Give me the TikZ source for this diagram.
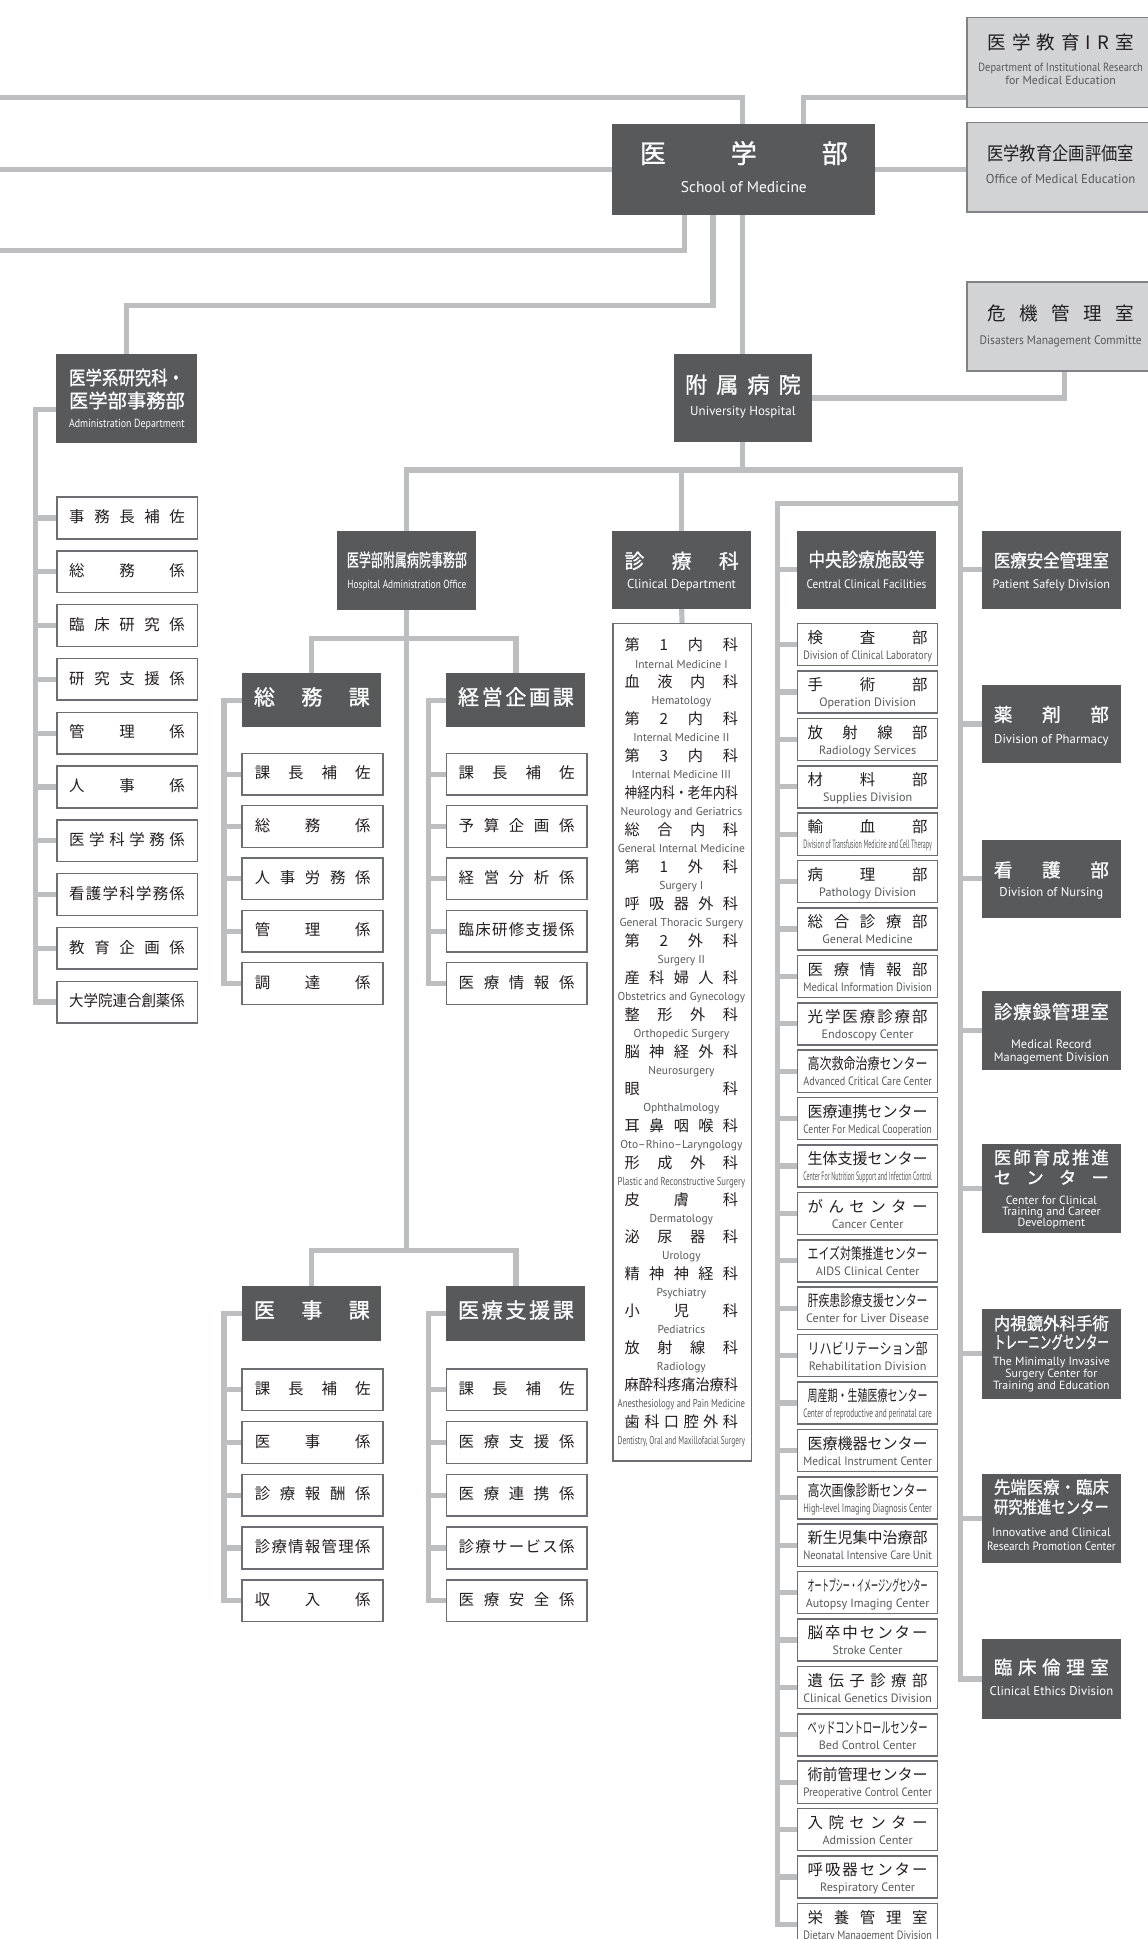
\documentclass[tikz,border=0pt]{standalone}
\usepackage{graphicx}
\usepackage{fontspec}
\setmainfont{PT Sans}
\newfontfamily\jp{Noto Sans CJK JP}
\newfontfamily\jpb[FakeBold=1]{Noto Sans CJK JP}
\newfontfamily\en{PT Sans}
\usetikzlibrary{calc}
\definecolor{dk}{HTML}{58595B}
\definecolor{ln}{HTML}{BCBEC0}
\definecolor{bd}{HTML}{6D6E71}
\definecolor{lg}{HTML}{D1D3D4}
\definecolor{gbd}{HTML}{808285}
\definecolor{tx}{HTML}{231F20}
\definecolor{etx}{HTML}{58595B}
\pgfdeclarelayer{bg}
\pgfsetlayers{bg,main}
\makeatletter
\newsavebox\fitbox
\newcommand\spreadtok[1]{\let\sp@first\relax\@tfor\sp@c:=#1\do{\ifx\sp@first\relax\let\sp@first\@empty\else\hfil\fi\sp@c}}
\newcommand\jfit[2]{\sbox\fitbox{#2}\ifdim\wd\fitbox>#1\relax\resizebox{#1}{\height}{\usebox\fitbox}\else\makebox[#1][s]{\spreadtok{#2}}\fi}
\newcommand\efit[2]{\sbox\fitbox{#2}\ifdim\wd\fitbox>#1\relax\resizebox{#1}{\height}{\usebox\fitbox}\else\usebox\fitbox\fi}
\makeatother
\tikzset{
  conn/.style={draw=ln, line width=4.2pt, line cap=rect, line join=miter},
  dbox/.style={fill=dk, inner sep=0pt, anchor=north west},
  wbox/.style={fill=white, draw=bd, line width=1.2pt, inner sep=0pt, anchor=north west},
  gbox/.style={fill=lg, draw=gbd, line width=1.4pt, inner sep=0pt, anchor=north west},
  jt/.style={inner sep=0pt, text height=0.88em, text depth=0.12em},
  et/.style={inner sep=0pt, text height=0.72em, text depth=0.18em},
  cj/.style={jt, font=\jp\fontsize{12.5}{12.5}\selectfont, text=tx},
  ce/.style={et, font=\en\fontsize{9.8}{10}\selectfont, text=etx},
  dj/.style={jt, font=\jp\fontsize{12.3}{12.3}\selectfont, text=tx},
  de/.style={et, font=\en\fontsize{9.3}{9.5}\selectfont, text=etx},
  wj/.style={jt, text=white},
  we/.style={et, text=white},
}
\newcommand\sitem[5]{%
  \node[wbox, minimum width=#4pt, minimum height=33.7pt] (#1) at (#2,#3) {};
  \node[jt, font=\jp\fontsize{12.5}{12.5}\selectfont, text=tx] (#1t) at (#1.center) {\jfit{93.6pt}{#5}};}
\newcommand\citem[3]{%
  \node[wbox, minimum width=113pt, minimum height=34pt] (c#1) at (644.5,{503.7+38.33*(#1-1)}) {};
  \node[cj] (c#1j) at ($(c#1.north)+(0,12.7)$) {\jfit{97pt}{#2}};
  \node[ce] (c#1e) at ($(c#1.north)+(0,26.8)$) {\efit{104pt}{#3}};}
\newcommand\dent[3]{%
  \node[dj] (d#1j) at (551,{522.6+29.9*(#1-1)}) {\jfit{91.7pt}{#2}};
  \node[de] (d#1e) at (551,{537.5+29.9*(#1-1)}) {\efit{103pt}{#3}};}
\begin{document}
\begin{tikzpicture}[x=1pt,y=-1pt]
\useasboundingbox (0,0) rectangle (928,1568);
% ---------- top right light boxes
\node[gbox, minimum width=152pt, minimum height=72.8pt] (ir) at (781,13.5) {};
\node[jt, font=\jp\fontsize{15}{15}\selectfont, text=tx] (irj) at ($(ir.north)+(0,22.9)$) {\jfit{118.4pt}{医学教育IR室}};
\node[et, font=\en\fontsize{9.6}{10}\selectfont, text=etx] (ire1) at ($(ir.north)+(0,41.8)$) {\efit{133pt}{Department of Institutional Research}};
\node[et, font=\en\fontsize{9.6}{10}\selectfont, text=etx] (ire2) at ($(ir.north)+(0,52)$) {\efit{133pt}{for Medical Education}};
\node[gbox, minimum width=152pt, minimum height=72.1pt] (ofc) at (781,98.4) {};
\node[jt, font=\jp\fontsize{15}{15}\selectfont, text=tx] (ofcj) at ($(ofc.north)+(0,27.6)$) {\jfit{118.6pt}{医学教育企画評価室}};
\node[et, font=\en\fontsize{10.5}{11}\selectfont, text=etx] (ofce) at ($(ofc.north)+(0,47.6)$) {\efit{121pt}{Office of Medical Education}};
\node[gbox, minimum width=152pt, minimum height=72pt] (dis) at (781,227.3) {};
\node[jt, font=\jp\fontsize{15}{15}\selectfont, text=tx] (disj) at ($(dis.north)+(0,28.3)$) {\jfit{118.4pt}{危機管理室}};
\node[et, font=\en\fontsize{10}{11}\selectfont, text=etx] (dise) at ($(dis.north)+(0,48.3)$) {\efit{131pt}{Disasters Management Committe}};
% ---------- School of Medicine
\node[dbox, minimum width=212.6pt, minimum height=73.6pt] (med) at (495,99.8) {};
\node[wj, font=\jpb\fontsize{21}{21}\selectfont] (medj) at ($(med.north)+(0,28.2)$) {\jfit{168.2pt}{医学部}};
\node[we, font=\en\fontsize{12.5}{13}\selectfont] (mede) at ($(med.north)+(0,53.2)$) {\efit{104pt}{School of Medicine}};
% ---------- University Hospital
\node[dbox, minimum width=111.7pt, minimum height=71.7pt] (hosp) at (544.7,285.8) {};
\node[wj, font=\jpb\fontsize{18}{18}\selectfont] (hospj) at ($(hosp.north)+(0,28.2)$) {\jfit{93.6pt}{附属病院}};
\node[we, font=\en\fontsize{10.5}{11}\selectfont] (hospe) at ($(hosp.north)+(0,47.8)$) {\efit{90pt}{University Hospital}};
% ---------- Administration Department
\node[dbox, minimum width=113.7pt, minimum height=72.2pt] (adm) at (45.3,285.8) {};
\node[wj, anchor=west, font=\jpb\fontsize{15.5}{15.5}\selectfont] (admj1) at (55.7,307.4) {\jfit{93pt}{医学系研究科・}};
\node[wj, anchor=west, font=\jpb\fontsize{15.5}{15.5}\selectfont] (admj2) at (55.7,326) {\jfit{93.5pt}{医学部事務部}};
\node[we, anchor=west, font=\en\fontsize{9.5}{10}\selectfont] (adme) at (55.7,343) {\efit{93.5pt}{Administration Department}};
\sitem{a1}{45.3}{401.4}{113.7}{事務長補佐}
\sitem{a2}{45.3}{444.9}{113.7}{総務係}
\sitem{a3}{45.3}{488.4}{113.7}{臨床研究係}
\sitem{a4}{45.3}{531.9}{113.7}{研究支援係}
\sitem{a5}{45.3}{575.4}{113.7}{管理係}
\sitem{a6}{45.3}{618.9}{113.7}{人事係}
\sitem{a7}{45.3}{662.4}{113.7}{医学科学務係}
\sitem{a8}{45.3}{705.9}{113.7}{看護学科学務係}
\sitem{a9}{45.3}{749.4}{113.7}{教育企画係}
\sitem{a10}{45.3}{792.9}{113.7}{大学院連合創薬係}
% ---------- Hospital Administration Office
\node[dbox, minimum width=112.4pt, minimum height=64.2pt] (hao) at (272.6,428.8) {};
\node[wj, font=\jpb\fontsize{14.5}{14.5}\selectfont] (haoj) at ($(hao.north)+(0,25.6)$) {\jfit{97pt}{医学部附属病院事務部}};
\node[we, font=\en\fontsize{9.5}{10}\selectfont] (haoe) at ($(hao.north)+(0,44.5)$) {\efit{96pt}{Hospital Administration Office}};
% section headers
\node[dbox, minimum width=112.4pt, minimum height=44pt] (gA) at (195.8,544) {};
\node[wj, font=\jpb\fontsize{17}{17}\selectfont] (gAj) at (gA.center) {\jfit{93.7pt}{総務課}};
\node[dbox, minimum width=112.4pt, minimum height=44pt] (gB) at (360.8,544) {};
\node[wj, font=\jpb\fontsize{17}{17}\selectfont] (gBj) at (gB.center) {\jfit{93.7pt}{経営企画課}};
\node[dbox, minimum width=112.4pt, minimum height=44.4pt] (gC) at (195.8,1039.6) {};
\node[wj, font=\jpb\fontsize{17}{17}\selectfont] (gCj) at (gC.center) {\jfit{93.7pt}{医事課}};
\node[dbox, minimum width=112.4pt, minimum height=44.4pt] (gD) at (360.8,1039.6) {};
\node[wj, font=\jpb\fontsize{17}{17}\selectfont] (gDj) at (gD.center) {\jfit{93.7pt}{医療支援課}};
\sitem{gA1}{195.2}{608.6}{114.1}{課長補佐}
\sitem{gA2}{195.2}{650.9}{114.1}{総務係}
\sitem{gA3}{195.2}{693.2}{114.1}{人事労務係}
\sitem{gA4}{195.2}{735.5}{114.1}{管理係}
\sitem{gA5}{195.2}{777.8}{114.1}{調達係}
\sitem{gB1}{360.3}{608.6}{113.7}{課長補佐}
\sitem{gB2}{360.3}{650.9}{113.7}{予算企画係}
\sitem{gB3}{360.3}{693.2}{113.7}{経営分析係}
\sitem{gB4}{360.3}{735.5}{113.7}{臨床研修支援係}
\sitem{gB5}{360.3}{777.8}{113.7}{医療情報係}
\sitem{gC1}{195.2}{1106.5}{114.1}{課長補佐}
\sitem{gC2}{195.2}{1149.1}{114.1}{医事係}
\sitem{gC3}{195.2}{1191.7}{114.1}{診療報酬係}
\sitem{gC4}{195.2}{1234.3}{114.1}{診療情報管理係}
\sitem{gC5}{195.2}{1276.9}{114.1}{収入係}
\sitem{gD1}{360.3}{1106.5}{113.7}{課長補佐}
\sitem{gD2}{360.3}{1149.1}{113.7}{医療支援係}
\sitem{gD3}{360.3}{1191.7}{113.7}{医療連携係}
\sitem{gD4}{360.3}{1234.3}{113.7}{診療サービス係}
\sitem{gD5}{360.3}{1276.9}{113.7}{医療安全係}
% ---------- Clinical Department
\node[dbox, minimum width=112pt, minimum height=63.6pt] (cd) at (495,428.8) {};
\node[wj, font=\jpb\fontsize{16}{16}\selectfont] (cdj) at ($(cd.north)+(0,27)$) {\jfit{92.4pt}{診療科}};
\node[we, font=\en\fontsize{10.5}{11}\selectfont] (cde) at ($(cd.north)+(0,44.5)$) {\efit{88pt}{Clinical Department}};
\node[wbox, minimum width=112pt, minimum height=677.3pt] (cdl) at (495,503.7) {};
\dent{1}{第1内科}{Internal Medicine I}
\dent{2}{血液内科}{Hematology}
\dent{3}{第2内科}{Internal Medicine II}
\dent{4}{第3内科}{Internal Medicine III}
\dent{5}{神経内科・老年内科}{Neurology and Geriatrics}
\dent{6}{総合内科}{General Internal Medicine}
\dent{7}{第1外科}{Surgery I}
\dent{8}{呼吸器外科}{General Thoracic Surgery}
\dent{9}{第2外科}{Surgery II}
\dent{10}{産科婦人科}{Obstetrics and Gynecology}
\dent{11}{整形外科}{Orthopedic Surgery}
\dent{12}{脳神経外科}{Neurosurgery}
\dent{13}{眼科}{Ophthalmology}
\dent{14}{耳鼻咽喉科}{Oto–Rhino–Laryngology}
\dent{15}{形成外科}{Plastic and Reconstructive Surgery}
\dent{16}{皮膚科}{Dermatology}
\dent{17}{泌尿器科}{Urology}
\dent{18}{精神神経科}{Psychiatry}
\dent{19}{小児科}{Pediatrics}
\dent{20}{放射線科}{Radiology}
\dent{21}{麻酔科疼痛治療科}{Anesthesiology and Pain Medicine}
\dent{22}{歯科口腔外科}{Dentistry, Oral and Maxillofacial Surgery}
% ---------- Central Clinical Facilities
\node[dbox, minimum width=112pt, minimum height=63.6pt] (ccf) at (644.5,428.8) {};
\node[wj, font=\jpb\fontsize{15.5}{15.5}\selectfont] (ccfj) at ($(ccf.north)+(0,25.6)$) {\jfit{93.8pt}{中央診療施設等}};
\node[we, font=\en\fontsize{10}{11}\selectfont] (ccfe) at ($(ccf.north)+(0,44.5)$) {\efit{97pt}{Central Clinical Facilities}};
\citem{1}{検査部}{Division of Clinical Laboratory}
\citem{2}{手術部}{Operation Division}
\citem{3}{放射線部}{Radiology Services}
\citem{4}{材料部}{Supplies Division}
\citem{5}{輸血部}{Division of Transfusion Medicine and Cell Therapy}
\citem{6}{病理部}{Pathology Division}
\citem{7}{総合診療部}{General Medicine}
\citem{8}{医療情報部}{Medical Information Division}
\citem{9}{光学医療診療部}{Endoscopy Center}
\citem{10}{高次救命治療センター}{Advanced Critical Care Center}
\citem{11}{医療連携センター}{Center For Medical Cooperation}
\citem{12}{生体支援センター}{Center For Nutrition Support and Infection Control}
\citem{13}{がんセンター}{Cancer Center}
\citem{14}{エイズ対策推進センター}{AIDS Clinical Center}
\citem{15}{肝疾患診療支援センター}{Center for Liver Disease}
\citem{16}{リハビリテーション部}{Rehabilitation Division}
\citem{17}{周産期・生殖医療センター}{Center of reproductive and perinatal care}
\citem{18}{医療機器センター}{Medical Instrument Center}
\citem{19}{高次画像診断センター}{High-level Imaging Diagnosis Center}
\citem{20}{新生児集中治療部}{Neonatal Intensive Care Unit}
\citem{21}{オートプシー・イメージングセンター}{Autopsy Imaging Center}
\citem{22}{脳卒中センター}{Stroke Center}
\citem{23}{遺伝子診療部}{Clinical Genetics Division}
\citem{24}{ベッドコントロールセンター}{Bed Control Center}
\citem{25}{術前管理センター}{Preoperative Control Center}
\citem{26}{入院センター}{Admission Center}
\citem{27}{呼吸器センター}{Respiratory Center}
\citem{28}{栄養管理室}{Dietary Management Division}
% ---------- right column
\node[dbox, minimum width=112pt, minimum height=63.2pt] (pat) at (794,428.8) {};
\node[wj, font=\jpb\fontsize{14.5}{14.5}\selectfont] (patj) at ($(pat.north)+(0,26)$) {\jfit{93pt}{医療安全管理室}};
\node[we, font=\en\fontsize{10}{11}\selectfont] (pate) at ($(pat.north)+(0,44.6)$) {\efit{95pt}{Patient Safely Division}};
\node[dbox, minimum width=112pt, minimum height=63.4pt] (pha) at (794,553.6) {};
\node[wj, font=\jpb\fontsize{15}{15}\selectfont] (phaj) at ($(pha.north)+(0,26)$) {\jfit{93pt}{薬剤部}};
\node[we, font=\en\fontsize{10.3}{11}\selectfont] (phae) at ($(pha.north)+(0,44.8)$) {\efit{95pt}{Division of Pharmacy}};
\node[dbox, minimum width=112pt, minimum height=63pt] (nur) at (794,679) {};
\node[wj, font=\jpb\fontsize{15}{15}\selectfont] (nurj) at ($(nur.north)+(0,26.3)$) {\jfit{93pt}{看護部}};
\node[we, font=\en\fontsize{10.3}{11}\selectfont] (nure) at ($(nur.north)+(0,43.6)$) {\efit{95pt}{Division of Nursing}};
\node[dbox, minimum width=112pt, minimum height=64pt] (mrm) at (794,801) {};
\node[wj, font=\jpb\fontsize{15}{15}\selectfont] (mrmj) at ($(mrm.north)+(0,19)$) {\jfit{93pt}{診療録管理室}};
\node[we, font=\en\fontsize{10}{11}\selectfont] (mrme1) at ($(mrm.north)+(0,44.5)$) {\efit{96pt}{Medical Record}};
\node[we, font=\en\fontsize{10}{11}\selectfont] (mrme2) at ($(mrm.north)+(0,54.5)$) {\efit{96pt}{Management Division}};
\node[dbox, minimum width=112pt, minimum height=72.3pt] (ctc) at (794,924.7) {};
\node[wj, font=\jpb\fontsize{14}{14}\selectfont] (ctcj1) at ($(ctc.north)+(0,12.8)$) {\jfit{93pt}{医師育成推進}};
\node[wj, font=\jpb\fontsize{14}{14}\selectfont] (ctcj2) at ($(ctc.north)+(0,28.9)$) {\jfit{93pt}{センター}};
\node[we, font=\en\fontsize{9.6}{10}\selectfont] (ctce1) at ($(ctc.north)+(0,46.3)$) {\efit{98pt}{Center for Clinical}};
\node[we, font=\en\fontsize{9.6}{10}\selectfont] (ctce2) at ($(ctc.north)+(0,55.6)$) {\efit{98pt}{Training and Career}};
\node[we, font=\en\fontsize{9.6}{10}\selectfont] (ctce3) at ($(ctc.north)+(0,64.8)$) {\efit{98pt}{Development}};
\node[dbox, minimum width=112pt, minimum height=73pt] (mis) at (794,1058) {};
\node[wj, font=\jpb\fontsize{14}{14}\selectfont] (misj1) at ($(mis.north)+(0,13.6)$) {\jfit{93pt}{内視鏡外科手術}};
\node[wj, font=\jpb\fontsize{14}{14}\selectfont] (misj2) at ($(mis.north)+(0,28.7)$) {\jfit{93pt}{トレーニングセンター}};
\node[we, font=\en\fontsize{9.6}{10}\selectfont] (mise1) at ($(mis.north)+(0,43.8)$) {\efit{100pt}{The Minimally Invasive}};
\node[we, font=\en\fontsize{9.6}{10}\selectfont] (mise2) at ($(mis.north)+(0,53.2)$) {\efit{100pt}{Surgery Center for}};
\node[we, font=\en\fontsize{9.6}{10}\selectfont] (mise3) at ($(mis.north)+(0,63.3)$) {\efit{100pt}{Training and Education}};
\node[dbox, minimum width=112pt, minimum height=72.3pt] (icr) at (794,1191.7) {};
\node[wj, font=\jpb\fontsize{14}{14}\selectfont] (icrj1) at ($(icr.north)+(0,12.3)$) {\jfit{93pt}{先端医療・臨床}};
\node[wj, font=\jpb\fontsize{14}{14}\selectfont] (icrj2) at ($(icr.north)+(0,28.3)$) {\jfit{93pt}{研究推進センター}};
\node[we, font=\en\fontsize{9.8}{10}\selectfont] (icre1) at ($(icr.north)+(0,47.7)$) {\efit{104pt}{Innovative and Clinical}};
\node[we, font=\en\fontsize{9.8}{10}\selectfont] (icre2) at ($(icr.north)+(0,59.3)$) {\efit{104pt}{Research Promotion Center}};
\node[dbox, minimum width=112pt, minimum height=65pt] (eth) at (794,1325) {};
\node[wj, font=\jpb\fontsize{15}{15}\selectfont] (ethj) at ($(eth.north)+(0,25)$) {\jfit{93pt}{臨床倫理室}};
\node[we, font=\en\fontsize{10.3}{11}\selectfont] (ethe) at ($(eth.north)+(0,43.4)$) {\efit{100pt}{Clinical Ethics Division}};
% ---------- coordinates
\coordinate (e1) at (-10,78.8);
\coordinate (e3) at (-10,202.8);
\coordinate (e4) at (0,247);
\coordinate (xl) at (-10,0);
\coordinate (y380) at (0,380);
\coordinate (rr) at (776.5,380);
\coordinate (cr) at (629,407);
\coordinate (y516) at (0,516.4);
\coordinate (y1011) at (0,1011);
\coordinate (xa) at (29,0);
\coordinate (xg) at (181.2,0);
\coordinate (xh) at (346.5,0);
% ---------- connectors
\begin{pgfonlayer}{bg}
\draw[conn] ($(ir.north west)+(0,65.3)$) -| ($(med.north west)+(154.6,0)$);
\draw[conn] (e1) -| ($(med.north west)+(105.3,0)$);
\draw[conn] (med.west) -- (med.west -| xl);
\draw[conn] (med.east) -- (med.east -| ofc.west);
\draw[conn] ($(med.south west)+(58.4,0)$) |- (e3);
\draw[conn] ($(med.south west)+(81.6,0)$) |- (adm.north |- e4) -- (adm.north);
\draw[conn] (hosp.north |- med.south) -- (hosp.north);
\draw[conn] ($(dis.south west)+(79.7,0)$) |- (hosp.east);
\draw[conn] (hosp.south) -- (hosp.south |- y380);
\draw[conn] (hao.north |- y380) -- (rr);
\draw[conn] (hao.north |- y380) -- (hao.north);
\draw[conn] (cd.north |- y380) -- (cd.north);
\draw[conn] (cd.south) -- (cdl.north);
\draw[conn] (rr) |- (eth.west);
\foreach \n in {pat,pha,nur,mrm,ctc,mis,icr} \draw[conn] (\n.west -| rr) -- (\n.west);
\draw[conn] (rr |- cr) -- (cr) |- (c28.west);
\draw[conn] (ccf.west -| cr) -- (ccf.west);
\foreach \i in {1,...,27} \draw[conn] (c\i.west -| cr) -- (c\i.west);
\draw[conn] ($(adm.north west)+(0,45.5)$) -| (a10.west -| xa) -- (a10.west);
\foreach \i in {1,...,9} \draw[conn] (a\i.west -| xa) -- (a\i.west);
\draw[conn] (hao.south) -- (hao.south |- y1011);
\draw[conn] (gA.north |- y516) -- (gB.north |- y516);
\draw[conn] (gA.north |- y516) -- (gA.north);
\draw[conn] (gB.north |- y516) -- (gB.north);
\draw[conn] (gC.north |- y1011) -- (gD.north |- y1011);
\draw[conn] (gC.north |- y1011) -- (gC.north);
\draw[conn] (gD.north |- y1011) -- (gD.north);
\draw[conn] (gA.west) -| (gA5.west -| xg) -- (gA5.west);
\draw[conn] (gB.west) -| (gB5.west -| xh) -- (gB5.west);
\draw[conn] (gC.west) -| (gC5.west -| xg) -- (gC5.west);
\draw[conn] (gD.west) -| (gD5.west -| xh) -- (gD5.west);
\foreach \g/\x in {gA/xg,gB/xh,gC/xg,gD/xh} {
  \foreach \i in {1,...,4} \draw[conn] (\g\i.west -| \x) -- (\g\i.west);
}
\end{pgfonlayer}
\end{tikzpicture}
\end{document}
